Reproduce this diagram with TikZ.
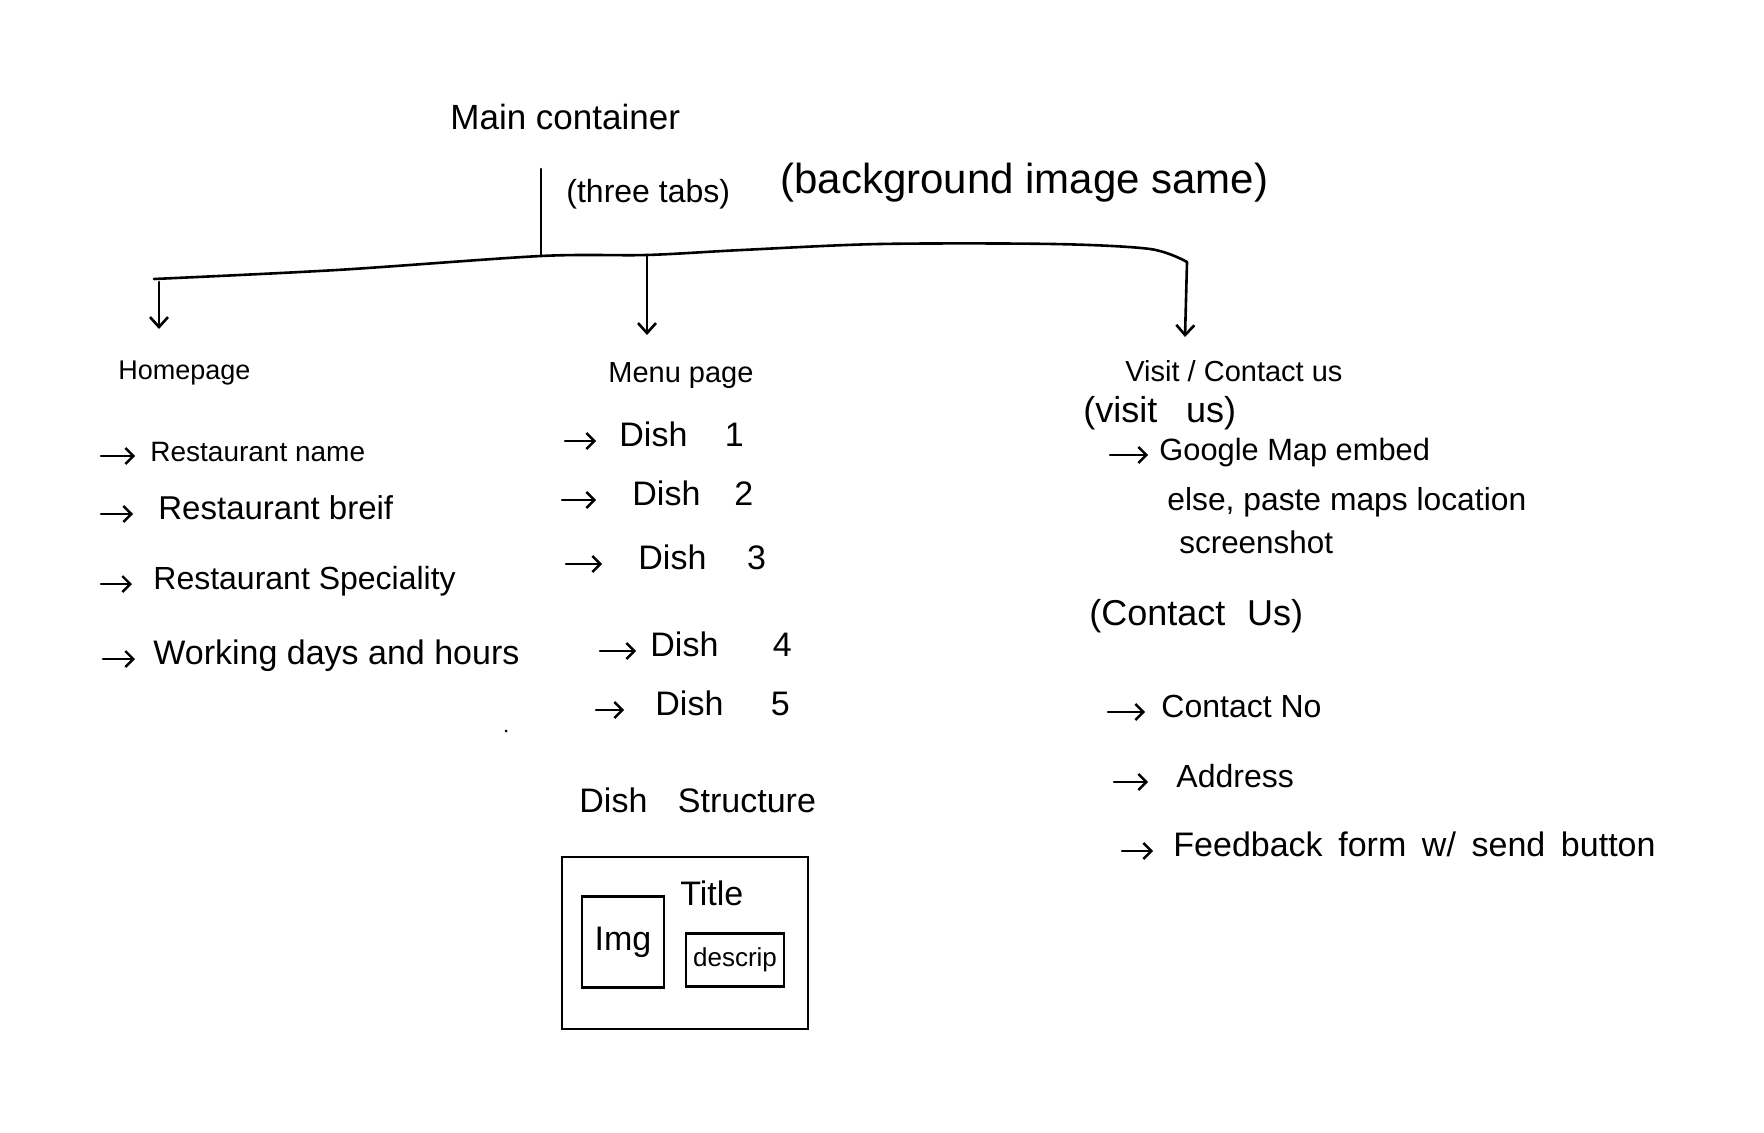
\documentclass[tikz,border=0pt]{standalone}
\usepackage{fontspec}
\setmainfont{Liberation Sans}
\usetikzlibrary{arrows.meta,calc}
\newcommand\hwfs[1]{\fontsize{#1}{#1}\selectfont}
\newcommand\bularrow[3]{\draw[bularr] ($(#1.mid west)+(#2,0)$) -- ($(#1.mid west)+(#3,0)$);}
\begin{document}
\begin{tikzpicture}[x=0.5pt,y=-0.5pt,
  txt/.style={anchor=mid west, inner sep=0pt, font=\hwfs{16}},
  wide/.style={execute at begin node={\spaceskip=#1\relax}},
  tree/.style={line width=1.3pt, line cap=round, line join=round},
  treearr/.style={tree, -{Straight Barb[length=5pt,width=9pt]}},
  bularr/.style={line width=1.2pt, line cap=round, -{Straight Barb[length=4pt,width=8pt]}},
  box/.style={draw, line width=1.3pt, inner sep=0pt}
]
\useasboundingbox (0,0) rectangle (1764,1133);

% title area
\node[txt, font=\hwfs{17.5}] (main) at (450,124) {Main container};
\node[txt, font=\hwfs{16}] (tabs) at (566,197) {(three tabs)};
\node[txt, font=\hwfs{21}] (bg) at (780,188) {(background image same)};

% tree
\coordinate (vt) at (541,169);
\coordinate (bl) at (154,279);
\coordinate (b1) at (337,270);
\coordinate (jn) at (541,256);
\coordinate (jm) at (647,255);
\coordinate (b2) at (742,250);
\coordinate (b3) at (880,244);
\coordinate (b4) at (1053,244);
\coordinate (b5) at (1150,249);
\coordinate (br) at (1187,262);
\coordinate (hl) at (159,282);
\coordinate (hlE) at (159,329);
\coordinate (mE) at (647,335);
\coordinate (rE) at (1185,337);

\draw[tree] (vt) -- (jn);
\draw[tree] plot[smooth, tension=0.5] coordinates {(bl) (b1) (jn) (jm) (b2) (b3) (b4) (b5) (br)};
\draw[treearr] (hl) -- (hlE);
\draw[treearr] (jm) -- (mE);
\draw[treearr] (br) -- (rE);

% Homepage column
\node[txt, font=\hwfs{13.5}] (home) at (118,374) {Homepage};
\node[txt, font=\hwfs{14}] (h1) at (150,456) {Restaurant name};
\node[txt, font=\hwfs{16.5}] (h2) at (158,514) {Restaurant breif};
\node[txt, font=\hwfs{16}] (h3) at (153,584) {Restaurant Speciality};
\node[txt, font=\hwfs{17}] (h4) at (153,659) {Working days and hours};
\bularrow{h1}{-49}{-15}
\bularrow{h2}{-57}{-25}
\bularrow{h3}{-52}{-21}
\bularrow{h4}{-50}{-18}
\fill (506,731) circle[radius=1.5];

% Menu column
\node[txt, font=\hwfs{14.5}] (menu) at (608,377) {Menu page};
\node[txt, font=\hwfs{17}, wide=1.1em] (d1) at (619,441) {Dish 1};
\node[txt, font=\hwfs{17}, wide=1.0em] (d2) at (632,500) {Dish 2};
\node[txt, font=\hwfs{17}, wide=1.2em] (d3) at (638,564) {Dish 3};
\node[txt, font=\hwfs{17}, wide=1.6em] (d4) at (650,651) {Dish 4};
\node[txt, font=\hwfs{17}, wide=1.4em] (d5) at (655,710) {Dish 5};
\bularrow{d1}{-54}{-23}
\bularrow{d2}{-70}{-36}
\bularrow{d3}{-72}{-36}
\bularrow{d4}{-50}{-14}
\bularrow{d5}{-59}{-31}

% Dish structure
\node[txt, font=\hwfs{17}, wide=0.9em] (ds) at (579,807) {Dish Structure};
\node[box, minimum width=123pt, minimum height=86pt] (dishbox) at (685,943) {};
\node[box, minimum width=41pt, minimum height=45.5pt, font=\hwfs{17}] (img) at (623,942) {Img};
\node[txt, font=\hwfs{17}] (title) at (680,900) {Title};
\node[box, minimum width=49pt, minimum height=26.5pt, font=\hwfs{13}] (desc) at (735,960) {descrip};

% Visit / Contact column
\node[txt, font=\hwfs{14.5}] (visit) at (1125,376) {Visit / Contact us};
\node[txt, font=\hwfs{18}, wide=0.8em] (vus) at (1083,417) {(visit us)};
\node[txt, font=\hwfs{15.4}] (g1) at (1159,455) {Google Map embed};
\node[txt, font=\hwfs{15.9}] (g2) at (1167,505) {else, paste maps location};
\node[txt, font=\hwfs{15.7}] (g3) at (1179,548) {screenshot};
\node[txt, font=\hwfs{18}, wide=0.6em] (cus) at (1089,620) {(Contact Us)};
\node[txt, font=\hwfs{16}] (c1) at (1161,712) {Contact No};
\node[txt, font=\hwfs{16}] (c2) at (1176,782) {Address};
\node[txt, font=\hwfs{17}, wide=0.46em] (c3) at (1173,851) {Feedback form w/ send button};
\bularrow{g1}{-49}{-11}
\bularrow{c1}{-53}{-16}
\bularrow{c2}{-62}{-28}
\bularrow{c3}{-51}{-20}
\end{tikzpicture}
\end{document}
